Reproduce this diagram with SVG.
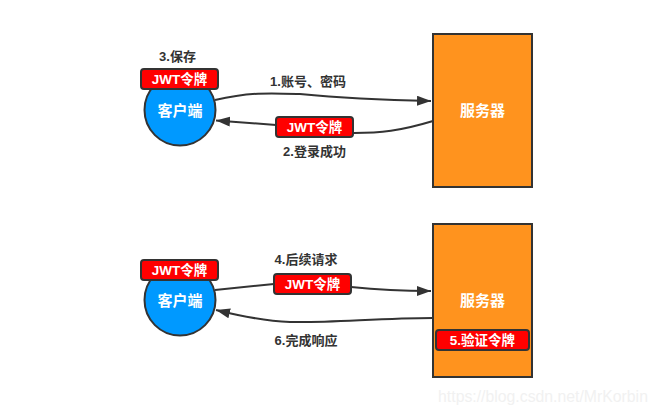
<svg xmlns="http://www.w3.org/2000/svg" width="656" height="415" viewBox="0 0 656 415">
<style>
text{font-family:"Liberation Sans","Noto Sans CJK SC",sans-serif;font-weight:bold;text-anchor:middle}
.lb{font-size:13px;fill:#333}
.w{fill:#fff}
.t{font-size:13.500px}
.n{font-size:15px}
.c{fill:#0099ff;stroke:#333;stroke-width:2}
.s{fill:#ff931e;stroke:#333;stroke-width:2}
.r{fill:#ff0000;stroke:#333;stroke-width:2}
.e{fill:none;stroke:#333;stroke-width:2}
</style>
<defs><marker id="a" markerUnits="userSpaceOnUse" markerWidth="16" markerHeight="12" refX="14" refY="5" orient="auto"><path d="M0 0L14 5L0 10Z" fill="#333"/></marker></defs>
<rect width="656" height="415" fill="#fff"/>
<g id="connectors">
<path class="e" marker-end="url(#a)" d="M215 100C250 92 270 93 300 94C340 98 380 100 431 101"/>
<path class="e" marker-end="url(#a)" d="M433 121C400 131 380 133 354 133M276 125L216 120.500"/>
<path class="e" marker-end="url(#a)" d="M215 290L274 284M351 287C380 290 400 291 431 291"/>
<path class="e" marker-end="url(#a)" d="M433 318C380 318 330 323 290 322C265 321 240 316 216 310"/>
</g>
<g id="client1"><circle class="c" cx="180" cy="110" r="35.500"/><text class="w n" x="180" y="116">客户端</text></g>
<g id="token1"><rect class="r" x="141" y="69" width="77" height="20" rx="3"/><text class="w t" x="179.500" y="84">JWT令牌</text></g>
<g id="server1"><rect class="s" x="433" y="34" width="99" height="153"/><text class="w n" x="482.500" y="116">服务器</text></g>
<g id="token2"><rect class="r" x="276" y="117" width="77" height="20" rx="3"/><text class="w t" x="314.500" y="132">JWT令牌</text></g>
<g id="client2"><circle class="c" cx="180" cy="300" r="35.500"/><text class="w n" x="180" y="306">客户端</text></g>
<g id="token3"><rect class="r" x="141" y="260" width="77" height="20" rx="3"/><text class="w t" x="179.500" y="275">JWT令牌</text></g>
<g id="server2"><rect class="s" x="433" y="224" width="99" height="153"/><text class="w n" x="482.500" y="306">服务器</text></g>
<g id="token4"><rect class="r" x="274" y="274" width="77" height="20" rx="3"/><text class="w t" x="312.500" y="289">JWT令牌</text></g>
<g id="token5"><rect class="r" x="436" y="330" width="93" height="20" rx="3"/><text class="w t" x="482.500" y="345">5.验证令牌</text></g>
<g id="labels">
<text class="lb" x="177.500" y="61">3.保存</text>
<text class="lb" x="308" y="86">1.账号、密码</text>
<text class="lb" x="314.500" y="156">2.登录成功</text>
<text class="lb" x="306" y="264">4.后续请求</text>
<text class="lb" x="306" y="345">6.完成响应</text>
</g>
<text x="543" y="402" style="font-family:'Liberation Sans',sans-serif;font-weight:normal;font-size:15.800px;fill:#f1f1f1">https://blog.csdn.net/MrKorbin</text>
</svg>
